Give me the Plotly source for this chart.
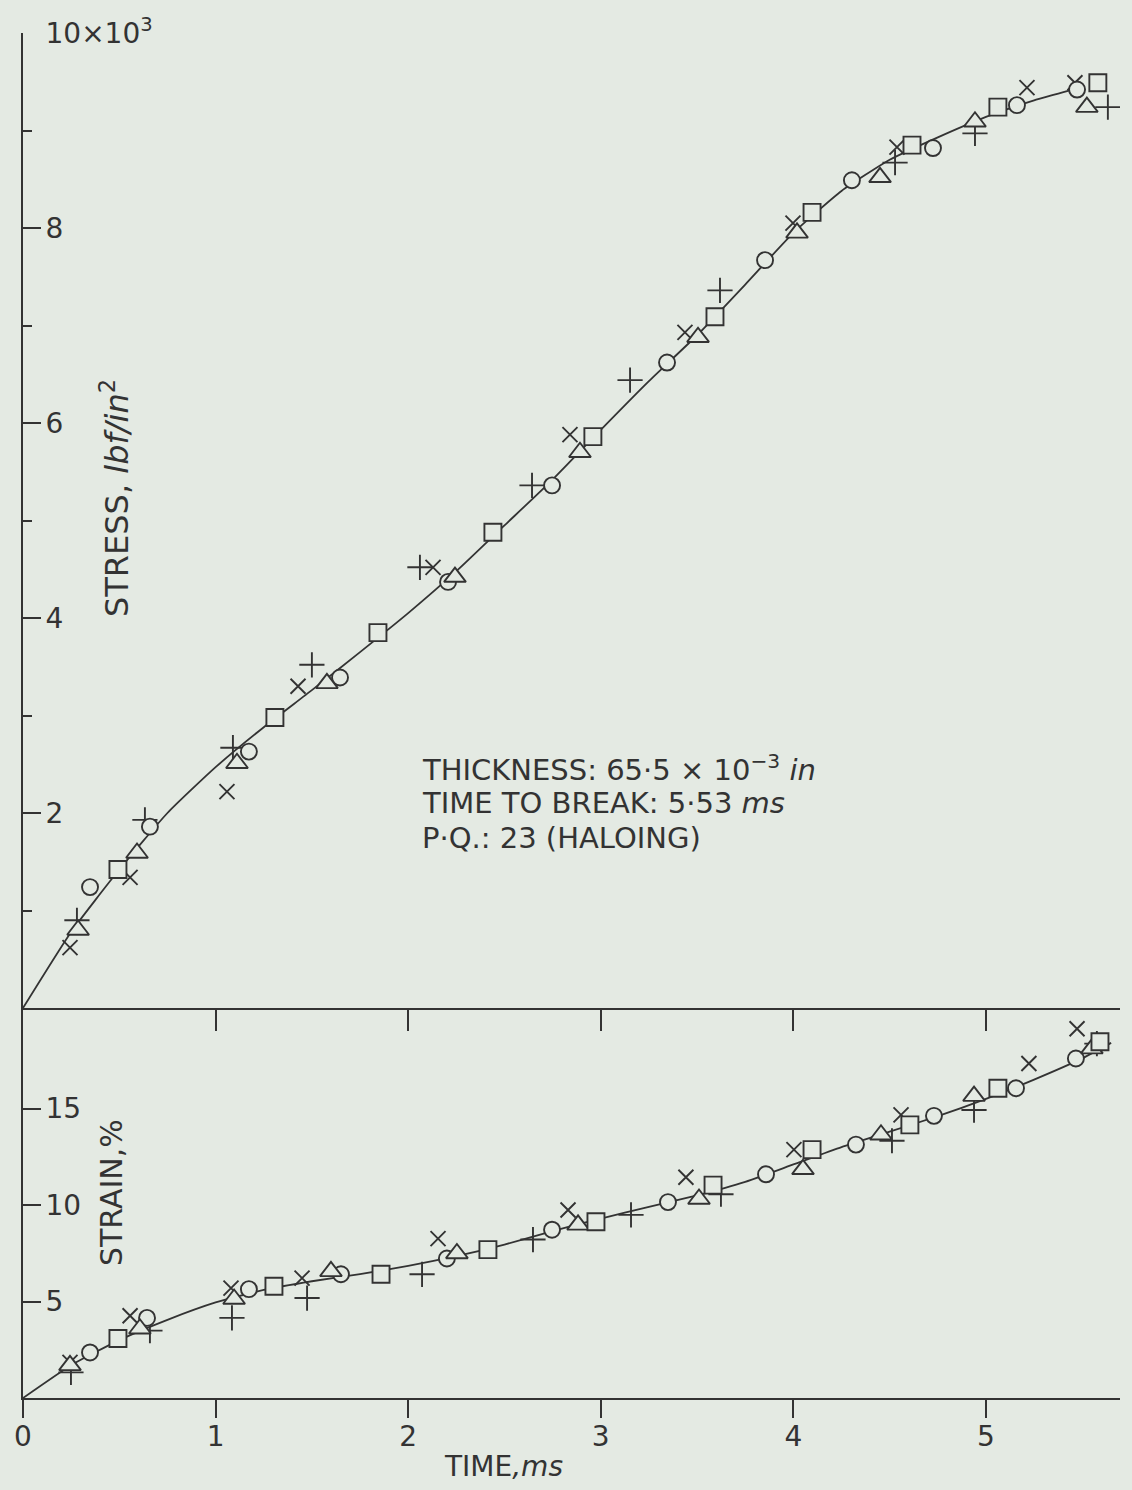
import plotly.graph_objects as go

INK = "#333333"
BG = "#e4eae3"
FONT = "DejaVu Sans"

# ---------------- DATA ----------------
# Upper panel: stress (x10^3 lbf/in^2) against time (ms)
stress_cross_t = [0.244, 0.556, 1.059, 1.428, 2.129, 2.840, 3.437, 3.998, 4.538, 5.213, 5.462]
stress_cross = [0.62, 1.34, 2.22, 3.30, 4.52, 5.88, 6.93, 8.05, 8.83, 9.44, 9.49]
stress_plus_t = [0.280, 0.633, 1.090, 1.500, 2.061, 2.643, 3.152, 3.619, 4.528, 4.943, 5.633]
stress_plus = [0.90, 1.93, 2.67, 3.52, 4.52, 5.36, 6.44, 7.36, 8.67, 8.97, 9.24]
stress_circle_t = [0.348, 0.659, 1.173, 1.646, 2.207, 2.747, 3.344, 3.853, 4.304, 4.725, 5.161, 5.473]
stress_circle = [1.24, 1.86, 2.63, 3.39, 4.37, 5.36, 6.62, 7.67, 8.49, 8.82, 9.26, 9.42]
stress_tri_t = [0.286, 0.592, 1.111, 1.578, 2.243, 2.892, 3.505, 4.019, 4.450, 4.943, 5.524]
stress_tri = [0.80, 1.59, 2.51, 3.33, 4.42, 5.70, 6.88, 7.95, 8.52, 9.09, 9.24]
stress_square_t = [0.493, 1.308, 1.843, 2.440, 2.959, 3.593, 4.097, 4.616, 5.062, 5.581]
stress_square = [1.42, 2.98, 3.85, 4.88, 5.86, 7.09, 8.16, 8.85, 9.24, 9.49]
stress_fit_t = [0, 0.25, 0.5, 0.75, 1.0, 1.25, 1.5, 1.75, 2.0, 2.25, 2.5, 2.75, 3.0,
                3.25, 3.5, 3.75, 4.0, 4.25, 4.5, 4.75, 5.0, 5.25, 5.45]
stress_fit = [0, 0.78, 1.42, 2.0, 2.47, 2.88, 3.26, 3.65, 4.05, 4.48, 4.95, 5.42, 5.93,
              6.43, 6.9, 7.42, 7.95, 8.38, 8.7, 8.93, 9.14, 9.31, 9.42]

# Lower panel: strain (%) against time (ms)
strain_cross_t = [0.244, 0.556, 1.080, 1.449, 2.155, 2.830, 3.442, 4.003, 4.559, 5.223, 5.473]
strain_cross = [1.85, 4.26, 5.69, 6.21, 8.26, 9.74, 11.44, 12.87, 14.67, 17.33, 19.13]
strain_plus_t = [0.249, 0.659, 1.085, 1.475, 2.072, 2.648, 3.157, 3.624, 4.512, 4.938, 5.576]
strain_plus = [1.33, 3.49, 4.15, 5.18, 6.41, 8.21, 9.49, 10.56, 13.33, 14.92, 18.36]
strain_circle_t = [0.348, 0.644, 1.173, 1.651, 2.201, 2.747, 3.349, 3.858, 4.325, 4.730, 5.156, 5.467]
strain_circle = [2.36, 4.15, 5.64, 6.41, 7.23, 8.72, 10.15, 11.59, 13.13, 14.62, 16.05, 17.59]
strain_tri_t = [0.244, 0.607, 1.096, 1.599, 2.253, 2.882, 3.510, 4.050, 4.455, 4.938, 5.550]
strain_tri = [1.69, 3.59, 5.13, 6.56, 7.49, 8.97, 10.31, 11.85, 13.64, 15.64, 18.10]
strain_square_t = [0.493, 1.303, 1.859, 2.414, 2.975, 3.583, 4.097, 4.605, 5.062, 5.592]
strain_square = [3.08, 5.79, 6.41, 7.69, 9.13, 11.03, 12.87, 14.15, 16.05, 18.46]
strain_fit_t = [0, 0.25, 0.5, 0.75, 1.0, 1.25, 1.5, 1.75, 2.0, 2.25, 2.5, 2.75, 3.0,
                3.25, 3.5, 3.75, 4.0, 4.25, 4.5, 4.75, 5.0, 5.25, 5.5, 5.65]
strain_fit = [0, 1.7, 3.0, 4.05, 4.95, 5.6, 6.05, 6.42, 6.85, 7.35, 7.95, 8.65, 9.3,
              9.9, 10.5, 11.2, 12.1, 13.0, 13.8, 14.6, 15.5, 16.5, 17.6, 18.4]

time_ticks = [0, 1, 2, 3, 4, 5]
time_tick_text = ["0", "1", "2", "3", "4", "5"]
top_time_ticks = [1, 2, 3, 4, 5]
stress_ticks = [2, 4, 6, 8, 10]
stress_tick_text = ["2", "4", "6", "8", "10×10<sup>3</sup>"]
stress_minor_ticks = [1, 3, 5, 7, 9]
strain_ticks = [5, 10, 15]
strain_tick_text = ["5", "10", "15"]

notes = ["THICKNESS: 65·5 × 10<sup>−3</sup> <i>in</i>",
         "TIME TO BREAK: 5·53 <i>ms</i>",
         "P·Q.: 23 (HALOING)"]

# ---------------- FIGURE ----------------
fig = go.Figure()

line_style = dict(color=INK, width=1.8, shape="spline", smoothing=0.5)
fig.add_trace(go.Scatter(x=stress_fit_t, y=stress_fit, mode="lines", xaxis="x2", yaxis="y2",
                         line=line_style, showlegend=False, hoverinfo="skip"))
fig.add_trace(go.Scatter(x=strain_fit_t, y=strain_fit, mode="lines", xaxis="x", yaxis="y",
                         line=line_style, showlegend=False, hoverinfo="skip"))

series = [
    ("×", "x-thin", 15, stress_cross_t, stress_cross, strain_cross_t, strain_cross),
    ("+", "cross-thin", 18, stress_plus_t, stress_plus, strain_plus_t, strain_plus),
    ("○", "circle", 16, stress_circle_t, stress_circle, strain_circle_t, strain_circle),
    ("△", "triangle-up", 19, stress_tri_t, stress_tri, strain_tri_t, strain_tri),
    ("□", "square", 17, stress_square_t, stress_square, strain_square_t, strain_square),
]
for name, sym, size, st, sv, et, ev in series:
    mk = dict(symbol=sym, size=size, color=BG, line=dict(color=INK, width=1.9))
    fig.add_trace(go.Scatter(x=st, y=sv, mode="markers", xaxis="x2", yaxis="y2",
                             marker=mk, name=name, showlegend=False))
    fig.add_trace(go.Scatter(x=et, y=ev, mode="markers", xaxis="x", yaxis="y",
                             marker=mk, name=name, showlegend=False))

split = 390 / 1365.0

axis_common = dict(showgrid=False, zeroline=False, showline=True, linecolor=INK, linewidth=2.2,
                   tickcolor=INK, tickwidth=2)

fig.update_layout(
    width=1132, height=1490,
    margin=dict(l=23, r=12, t=33, b=92),
    paper_bgcolor=BG, plot_bgcolor=BG,
    font=dict(family=FONT, color=INK),
    showlegend=False,
    xaxis=dict(domain=[0, 1], range=[0, 5.696], anchor="y",
               tickmode="array", tickvals=time_ticks, ticktext=time_tick_text,
               ticks="outside", ticklen=18, tickfont=dict(size=28, color=INK),
               ticklabelstandoff=-6, **axis_common),
    xaxis2=dict(domain=[0, 1], range=[0, 5.696], anchor="y2",
                tickmode="array", tickvals=top_time_ticks, showticklabels=False,
                ticks="outside", ticklen=21, **axis_common),
    yaxis=dict(domain=[0, split], range=[0, 390 / 19.3], anchor="x",
               tickmode="array", tickvals=strain_ticks, ticktext=strain_tick_text,
               ticks="inside", ticklen=18, ticklabelposition="inside",
               ticklabelstandoff=7,
               ticklabeloverflow="allow", tickfont=dict(size=28, color=INK),
               **axis_common),
    yaxis2=dict(domain=[split, 1], range=[0, 10], anchor="x2",
                tickmode="array", tickvals=stress_ticks, ticktext=stress_tick_text,
                ticks="inside", ticklen=18, ticklabelposition="inside",
                ticklabelstandoff=7,
                ticklabeloverflow="allow", tickfont=dict(size=28, color=INK),
                minor=dict(tickmode="array", tickvals=stress_minor_ticks, ticks="inside",
                           ticklen=9, tickwidth=2, tickcolor=INK, showgrid=False),
                **axis_common),
)

def py(pixel_y):
    return (1398 - pixel_y) / 1365.0

def px(pixel_x):
    return (pixel_x - 23) / 1097.0

annotations = [
    dict(text="STRESS, <i>lbf/in</i><sup>2</sup>", x=px(115), y=py(498), textangle=-90,
         font=dict(size=32, color=INK)),
    dict(text="STRAIN,%", x=px(111), y=py(1193), textangle=-90,
         font=dict(size=30, color=INK)),
    dict(text="TIME<i>,ms</i>", x=px(503), y=py(1466), font=dict(size=28, color=INK)),
]
for i, line in enumerate(notes):
    annotations.append(dict(text=line, x=px(420), y=py(768 + 35 * i), xanchor="left",
                            font=dict(size=29, color=INK)))
for a in annotations:
    a.setdefault("xanchor", "center")
    a.update(xref="paper", yref="paper", yanchor="middle", showarrow=False)
fig.update_layout(annotations=annotations)

fig.write_html("out.html")
